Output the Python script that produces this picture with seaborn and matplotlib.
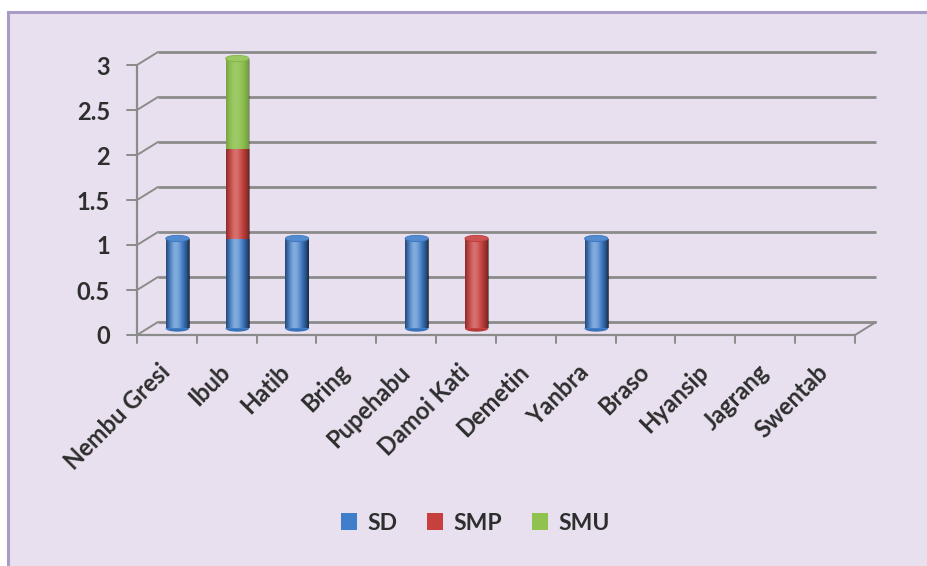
import numpy as np
import pandas as pd
import matplotlib
matplotlib.use("Agg")
import matplotlib.pyplot as plt
import seaborn as sns
from matplotlib.patches import Rectangle, Ellipse
from matplotlib.transforms import ScaledTranslation
from matplotlib.colors import to_rgb

# ---- data -------------------------------------------------------------
categories = ["Nembu Gresi", "Ibub", "Hatib", "Bring", "Pupehabu", "Damoi Kati",
              "Demetin", "Yanbra", "Braso", "Hyansip", "Jagrang", "Swentab"]
sd = [1, 1, 1, 0, 1, 0, 0, 1, 0, 0, 0, 0]
smp = [0, 1, 0, 0, 0, 1, 0, 0, 0, 0, 0, 0]
smu = [0, 1, 0, 0, 0, 0, 0, 0, 0, 0, 0, 0]
series_names = ["SD", "SMP", "SMU"]
y_ticks = [0, 0.5, 1, 1.5, 2, 2.5, 3]
y_tick_labels = ["0", "0.5", "1", "1.5", "2", "2.5", "3"]

# ---- style ------------------------------------------------------------
sns.set_style("white")
plt.rcParams["font.family"] = ["Lato", "DejaVu Sans"]
plt.rcParams["font.weight"] = "bold"

colors = {"SD": "#3f7ecb", "SMP": "#c8403d", "SMU": "#8fc24f"}
bg = "#e8e0ee"
border = "#a89cc6"
grid_c = "#8b8b8b"
text_c = "#2e2e2e"

df = pd.DataFrame({"wilayah": categories, "SD": sd, "SMP": smp, "SMU": smu})
df["SD_top"] = df["SD"]
df["SMP_top"] = df["SD"] + df["SMP"]
df["SMU_top"] = df["SD"] + df["SMP"] + df["SMU"]

fig = plt.figure(figsize=(9.27, 5.66), dpi=100)
fig.patch.set_facecolor("white")
fig.patches.append(Rectangle((8 / 927, -0.02), 1.2, 1 - 12 / 566 + 0.02,
                             transform=fig.transFigure, facecolor=bg,
                             edgecolor=border, linewidth=2.2, zorder=-10))

# axes = the mid-depth plane in which the columns stand
ax = fig.add_axes([147.5 / 927, (566 - 328.5) / 566, 718 / 927, 270 / 566])
ax.set_facecolor("none")
for s in ax.spines.values():
    s.set_visible(False)

n = len(categories)
ddx, ddy = 10.5 / 59.83, 6.5 / 90.0   # half depth of the 3-D box in data units
xl, xr = -0.5, n - 0.5
ymax = 3.0

# back wall gridlines and side-wall diagonals
for yv in y_ticks:
    ax.plot([xl + ddx, xr + ddx], [yv + ddy, yv + ddy], color=grid_c, lw=2.0,
            clip_on=False, zorder=1, solid_capstyle="butt")
    ax.plot([xl - ddx, xl + ddx], [yv - ddy, yv + ddy], color=grid_c, lw=1.4,
            clip_on=False, zorder=1)
# floor right edge and front edges
ax.plot([xr - ddx, xr + ddx], [-ddy, ddy], color=grid_c, lw=1.4, clip_on=False, zorder=1)
ax.plot([xl - ddx, xr - ddx], [-ddy, -ddy], color=grid_c, lw=1.6, clip_on=False, zorder=4)
ax.plot([xl - ddx, xl - ddx], [-ddy, ymax - ddy], color=grid_c, lw=1.6, clip_on=False, zorder=4)
# tick marks on the front edges
for k in range(n + 1):
    xb = xl - ddx + k
    ax.plot([xb, xb], [-ddy, -ddy - 0.09], color=grid_c, lw=1.4, clip_on=False, zorder=4)
for yv in y_ticks:
    ax.plot([xl - ddx - 0.17, xl - ddx], [yv - ddy, yv - ddy], color=grid_c, lw=1.4,
            clip_on=False, zorder=4)

# stacked columns: cumulative totals drawn from tallest to shortest
bar_w = 0.39
for name, col in [("SMU", "SMU_top"), ("SMP", "SMP_top"), ("SD", "SD_top")]:
    sns.barplot(data=df, x="wilayah", y=col, order=categories, color=colors[name],
                saturation=1, width=bar_w, ax=ax, zorder=3, linewidth=0)

# soft cylinder shading on each column segment
t = np.linspace(0, 1, 64)
hi = 0.14 * np.exp(-((t - 0.4) / 0.22) ** 2)
lo = 0.30 * (np.abs(t - 0.45) / 0.55) ** 3
hi_img = np.zeros((1, 64, 4)); hi_img[..., :3] = 1.0; hi_img[..., 3] = hi
lo_img = np.zeros((1, 64, 4)); lo_img[..., 3] = lo
for p in list(ax.patches):
    h = p.get_height()
    if h <= 0:
        continue
    x0, y0, w = p.get_x(), p.get_y(), p.get_width()
    for img in (hi_img, lo_img):
        im = ax.imshow(img, extent=[x0, x0 + w, y0, y0 + h], aspect="auto",
                       interpolation="bilinear", zorder=3.1)
        im.set_clip_path(p)

# rounded tops and bottoms of the cylinders
totals = df["SMU_top"].to_numpy()
for i in range(n):
    if totals[i] <= 0:
        continue
    if smu[i] > 0:
        top_c = colors["SMU"]
    elif smp[i] > 0:
        top_c = colors["SMP"]
    else:
        top_c = colors["SD"]
    bot_c = colors["SD"] if sd[i] > 0 else (colors["SMP"] if smp[i] > 0 else colors["SMU"])
    rgb = np.array(to_rgb(bot_c)) * 0.9
    ax.add_patch(Ellipse((i, 0), bar_w, 0.07, facecolor=rgb, edgecolor="none",
                         zorder=2.9, clip_on=False))
    light = np.array(to_rgb(top_c)) * 0.9 + 0.1
    ax.add_patch(Ellipse((i, totals[i]), bar_w, 0.07, facecolor=light,
                         edgecolor=np.array(to_rgb(top_c)) * 0.92, lw=0.6,
                         zorder=3.5, clip_on=False))

ax.set_xlim(xl, xr)
ax.set_ylim(0, ymax)

# axis labels, shifted onto the front plane
ax.set_xticks(range(n))
ax.set_xticklabels(categories, rotation=45, ha="right", va="center",
                   rotation_mode="anchor", fontsize=17, fontweight="bold", color=text_c)
ax.set_yticks(y_ticks)
ax.set_yticklabels(y_tick_labels, fontsize=17, fontweight="bold", color=text_c)
ax.tick_params(axis="both", length=0, pad=0)
ax.set_xlabel("")
ax.set_ylabel("")
for lbl in ax.get_xticklabels():
    lbl.set_transform(lbl.get_transform() + ScaledTranslation(-0.11, -0.40, fig.dpi_scale_trans))
for lbl in ax.get_yticklabels():
    lbl.set_transform(lbl.get_transform() + ScaledTranslation(-0.375, -0.065, fig.dpi_scale_trans))

# legend
handles = [Rectangle((0, 0), 1, 1, facecolor=colors[s], edgecolor="none") for s in series_names]
fig.legend(handles, series_names, loc="center", bbox_to_anchor=(0.513, (566 - 523) / 566),
           ncol=3, frameon=False, handlelength=0.7, handleheight=0.7,
           handletextpad=0.45, columnspacing=1.3,
           prop={"family": ["Lato", "DejaVu Sans"], "weight": "bold", "size": 16.5},
           labelcolor=text_c)

fig.savefig("out.png", dpi=100, facecolor=fig.get_facecolor())
